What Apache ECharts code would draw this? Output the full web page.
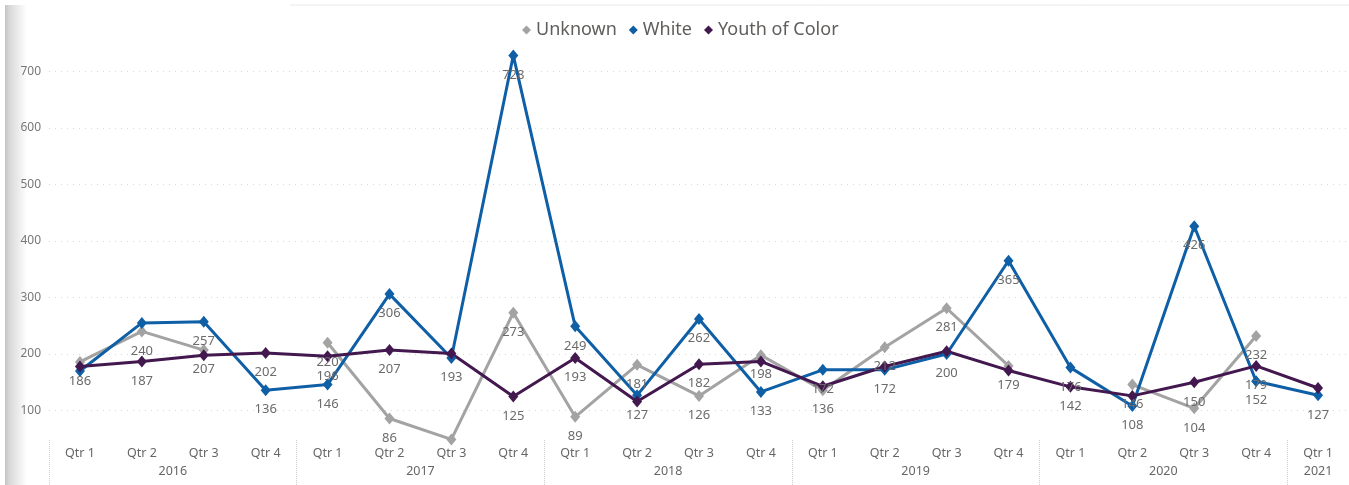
<!DOCTYPE html>
<html>
<head>
<meta charset="utf-8">
<title>Unknown / White / Youth of Color by quarter</title>
<script src="https://cdn.jsdelivr.net/npm/echarts@6/dist/echarts.min.js"></script>
<style>
    html, body { margin: 0; padding: 0; background: #fff; }
    #chart { width: 1349px; height: 485px; }
</style>
</head>
<body>
<div id="chart"></div>
<script>
// ---- data ----
const quarters = ['Qtr 1', 'Qtr 2', 'Qtr 3', 'Qtr 4',
                  'Qtr 1', 'Qtr 2', 'Qtr 3', 'Qtr 4',
                  'Qtr 1', 'Qtr 2', 'Qtr 3', 'Qtr 4',
                  'Qtr 1', 'Qtr 2', 'Qtr 3', 'Qtr 4',
                  'Qtr 1', 'Qtr 2', 'Qtr 3', 'Qtr 4',
                  'Qtr 1'];
const years = ['2016', '2017', '2018', '2019', '2020', '2021'];
const quartersPerYear = [4, 4, 4, 4, 4, 1];

const unknown = [186, 240, 207, null, 220, 86, 49, 273, 89, 181, 126, 198, 136, 212, 281, 179, null, 146, 104, 232, null];
const white   = [170, 255, 257, 136, 146, 306, 193, 728, 249, 127, 262, 133, 172, 172, 200, 365, 176, 108, 426, 152, 127];
const youth   = [178, 187, 198, 202, 196, 207, 201, 125, 193, 116, 182, 187, 143, 178, 205, 171, 142, 126, 150, 179, 140];

// labels the original chart hid because they overlapped
const unknownHidden = [6];
const whiteHidden = [0, 1];
const youthHidden = [0, 2, 6, 9, 11, 12, 13, 14, 15, 17, 20];

const FONT = "'Segoe UI', 'Noto Sans', sans-serif";

// year bands: label in the middle, dotted separator at each start
const yearMids = [];
const yearEdges = [];
let start = 0;
quartersPerYear.forEach(n => {
    yearEdges.push(start - 0.5);
    yearMids.push(start + (n - 1) / 2);
    start += n;
});

function withLabels(values, hidden) {
    return values.map((v, i) => ({
        value: v,
        label: { show: v !== null && !hidden.includes(i) }
    }));
}

function lineSeries(name, values, hidden, color) {
    return {
        name: name,
        type: 'line',
        xAxisIndex: 0,
        data: withLabels(values, hidden),
        symbol: 'diamond',
        symbolSize: [10, 12],
        itemStyle: { color: color },
        lineStyle: { color: color, width: 3 },
        label: {
            position: 'bottom',
            distance: 7,
            color: '#6b6b6b',
            fontFamily: FONT,
            fontSize: 13
        }
    };
}

const chart = echarts.init(document.getElementById('chart'));

const option = {
    animation: false,
    backgroundColor: '#fff',
    graphic: [
        {
            type: 'rect',
            shape: { x: 5, y: 5, width: 22, height: 480 },
            style: {
                fill: new echarts.graphic.LinearGradient(0, 0, 1, 0, [
                    { offset: 0, color: '#c4c4c4' },
                    { offset: 0.2, color: '#d8d8d8' },
                    { offset: 1, color: '#ffffff' }
                ])
            },
            silent: true
        },
        {
            type: 'line',
            shape: { x1: 290, y1: 5, x2: 1349, y2: 5 },
            style: { stroke: '#e8e8e8', lineWidth: 1 },
            silent: true
        }
    ],
    legend: {
        top: 16,
        left: 517,
        icon: 'diamond',
        itemWidth: 9,
        itemHeight: 9,
        itemGap: 12,
        textStyle: { color: '#605e5c', fontFamily: FONT, fontSize: 18 },
        data: ['Unknown', 'White', 'Youth of Color']
    },
    grid: { left: 49, right: -2, top: 43, bottom: 45, containLabel: false },
    xAxis: [
        {
            type: 'category',
            data: quarters,
            boundaryGap: true,
            axisLine: { show: false },
            axisTick: { show: false },
            axisLabel: {
                color: '#666',
                fontFamily: FONT,
                fontSize: 12.5,
                margin: 7,
                interval: 0
            }
        },
        {
            type: 'value',
            position: 'bottom',
            min: -0.5,
            max: quarters.length - 0.5,
            axisLine: { show: false },
            splitLine: { show: false },
            axisTick: {
                show: true,
                customValues: yearEdges,
                length: 45,
                lineStyle: { color: '#d0d0d0', type: 'dotted', width: 1 }
            },
            axisLabel: {
                customValues: yearMids,
                color: '#666',
                fontFamily: FONT,
                fontSize: 12.5,
                margin: 25,
                formatter: v => {
                    const k = yearMids.indexOf(v);
                    return k >= 0 ? years[k] : '';
                }
            }
        }
    ],
    yAxis: {
        type: 'value',
        min: 48,
        max: 750,
        splitNumber: 7,
        axisLine: { show: false },
        axisTick: { show: false },
        axisLabel: {
            color: '#777',
            fontFamily: FONT,
            fontSize: 12,
            margin: 8,
            showMinLabel: false,
            showMaxLabel: false
        },
        splitLine: {
            show: true,
            showMinLine: false,
            showMaxLine: false,
            lineStyle: { color: '#d6d6d6', type: [1, 5], width: 1 }
        }
    },
    series: [
        lineSeries('Unknown', unknown, unknownHidden, '#a3a3a3'),
        lineSeries('White', white, whiteHidden, '#0f5fa6'),
        lineSeries('Youth of Color', youth, youthHidden, '#42184f')
    ]
};

chart.setOption(option);
window.addEventListener('resize', () => chart.resize());
</script>
</body>
</html>
